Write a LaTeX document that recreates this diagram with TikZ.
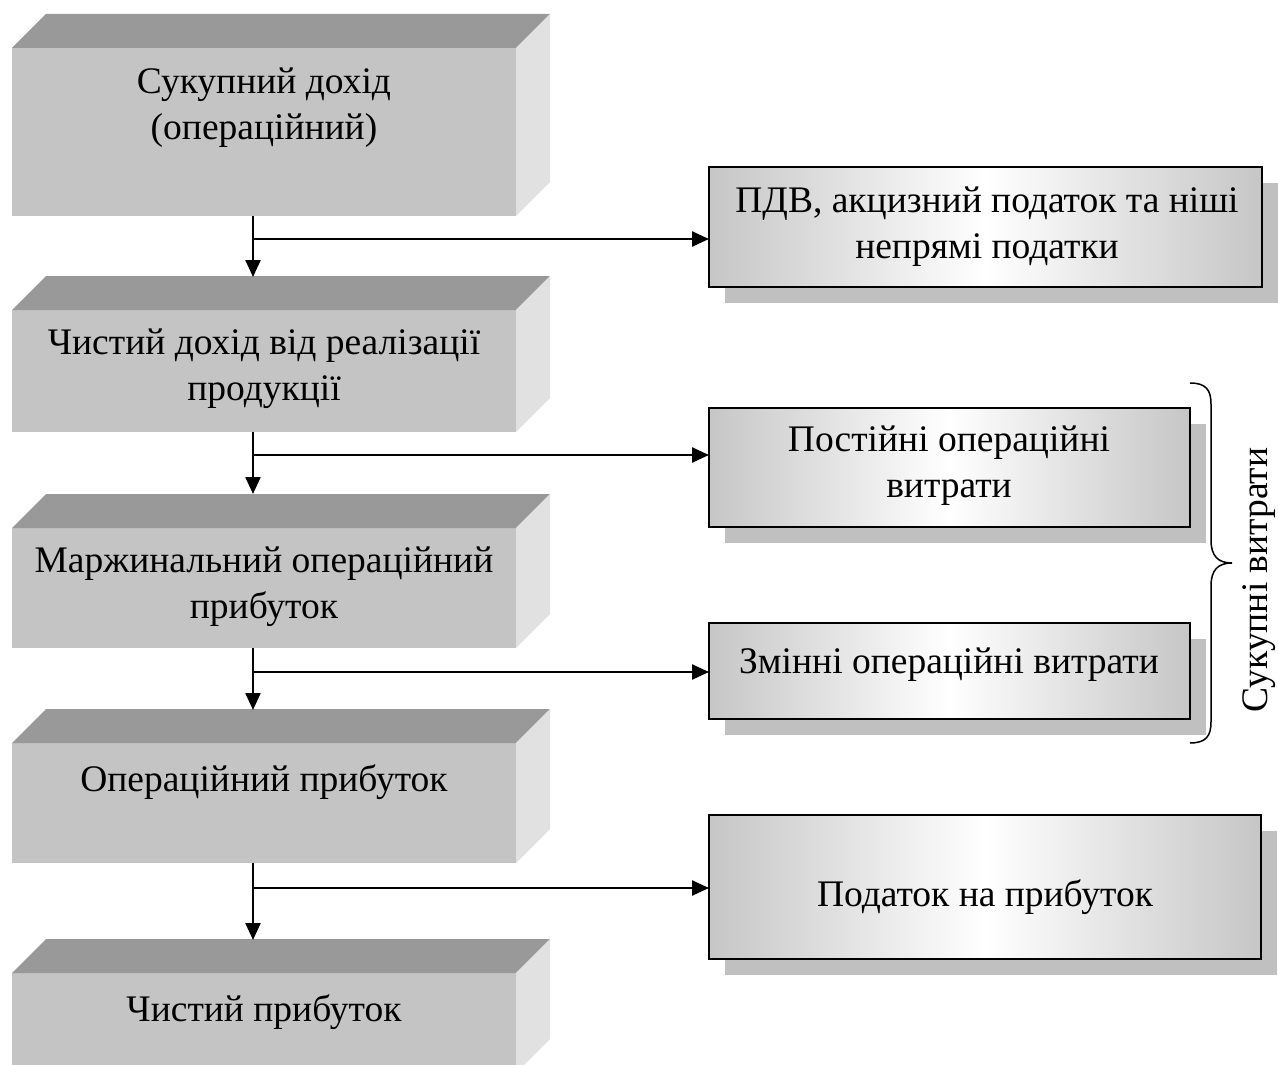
\documentclass[tikz,border=0pt]{standalone}
\usepackage{fontspec}
\setmainfont{Liberation Serif}
\usetikzlibrary{arrows.meta}
\definecolor{frontc}{RGB}{196,196,196}
\definecolor{topc}{RGB}{153,153,153}
\definecolor{sidec}{RGB}{225,225,225}
\definecolor{shadc}{RGB}{192,192,192}
\definecolor{gradc}{RGB}{198,198,198}
\begin{document}
\begin{tikzpicture}[x=1pt,y=-1pt,
  front/.style={fill=frontc, draw=none, minimum width=504pt, inner sep=0pt, outer sep=0pt},
  topface/.style={fill=topc},
  sideface/.style={fill=sidec},
  rbox/.style={draw=black, line width=2pt, left color=gradc, right color=gradc, middle color=white, inner sep=0pt, outer sep=0pt},
  shadowbox/.style={fill=shadc, draw=none, inner sep=0pt, outer sep=0pt},
  lbl/.style={font=\fontsize{37.5}{46}\selectfont, align=center, inner sep=0pt},
  arr/.style={line width=2.4pt, -{Triangle[length=17pt,width=15pt]}},
  bracepath/.style={line width=1.5pt},
  ]
\useasboundingbox (0,0) rectangle (1278,1065);

% ---------- left 3D boxes ----------
\node[front, minimum height=168pt] (f1) at (264,132) {};
\node[front, minimum height=122pt] (f2) at (264,371) {};
\node[front, minimum height=120pt] (f3) at (264,588) {};
\node[front, minimum height=120pt] (f4) at (264,803) {};
\node[front, minimum height=100pt] (f5) at (264,1023) {};
\foreach \f in {f1,f2,f3,f4,f5}{
  \fill[topface] (\f.north west) -- ([shift={(34,-34)}]\f.north west) -- ([shift={(34,-34)}]\f.north east) -- (\f.north east) -- cycle;
  \fill[sideface] (\f.north east) -- ([shift={(34,-34)}]\f.north east) -- ([shift={(34,-34)}]\f.south east) -- (\f.south east) -- cycle;
}
\node[lbl] (t1) at (264,108) {Сукупний дохід\\(операційний)};
\node[lbl] (t2) at (264,369) {Чистий дохід від реалізації\\продукції};
\node[lbl] (t3) at (264,587) {Маржинальний операційний\\прибуток};
\node[lbl, anchor=base] (t4) at (264,791) {Операційний прибуток};
\node[lbl, anchor=base] (t5) at (264,1021) {Чистий прибуток};

% ---------- right boxes with shadows ----------
\node[shadowbox, minimum width=553pt, minimum height=120pt] (sA) at (1001.5,243) {};
\node[shadowbox, minimum width=481pt, minimum height=119pt] (sB) at (965.5,483.5) {};
\node[shadowbox, minimum width=481pt, minimum height=96pt] (sC) at (965.5,687) {};
\node[shadowbox, minimum width=552pt, minimum height=144pt] (sD) at (1001,903) {};
\node[rbox, minimum width=553pt, minimum height=120pt] (A) at (985.5,227) {};
\node[rbox, minimum width=481pt, minimum height=119pt] (B) at (949.5,467.5) {};
\node[rbox, minimum width=481pt, minimum height=96pt] (C) at (949.5,671) {};
\node[rbox, minimum width=552pt, minimum height=144pt] (D) at (985,887) {};
\node[lbl] (tA) at (987,227) {ПДВ, акцизний податок та ніші\\непрямі податки};
\node[lbl] (tB) at (949,466) {Постійні операційні\\витрати};
\node[lbl, anchor=base] (tC) at (949,673) {Змінні операційні витрати};
\node[lbl, anchor=base] (tD) at (985,906) {Податок на прибуток};

% ---------- connectors ----------
\coordinate (k2) at (253,277);
\coordinate (k3) at (253,494);
\coordinate (k4) at (253,710);
\coordinate (k5) at (253,940);
\coordinate (j1) at (253,239);
\coordinate (j2) at (253,455);
\coordinate (j3) at (253,672);
\coordinate (j4) at (253,888);
\draw[arr] (f1.south -| k2) -- (k2);
\draw[arr] (f2.south -| k3) -- (k3);
\draw[arr] (f3.south -| k4) -- (k4);
\draw[arr] (f4.south -| k5) -- (k5);
\draw[arr] (j1) -- (j1 -| A.west);
\draw[arr] (j2) -- (j2 -| B.west);
\draw[arr] (j3) -- (j3 -| C.west);
\draw[arr] (j4) -- (j4 -| D.west);

% ---------- brace ----------
\coordinate (br1) at (1190,383);
\coordinate (br2) at (1190,743);
\coordinate (brt) at (1232,563);
\draw[bracepath] (br1) .. controls (1206,383) and (1211,390) .. (1211,404)
  -- (1211,540) .. controls (1211,556) and (1218,563) .. (brt)
  .. controls (1218,563) and (1211,570) .. (1211,586)
  -- (1211,722) .. controls (1211,736) and (1206,743) .. (br2);
\node[lbl, rotate=90, anchor=base] (tS) at (1267,580) {Сукупні витрати};
\end{tikzpicture}
\end{document}
